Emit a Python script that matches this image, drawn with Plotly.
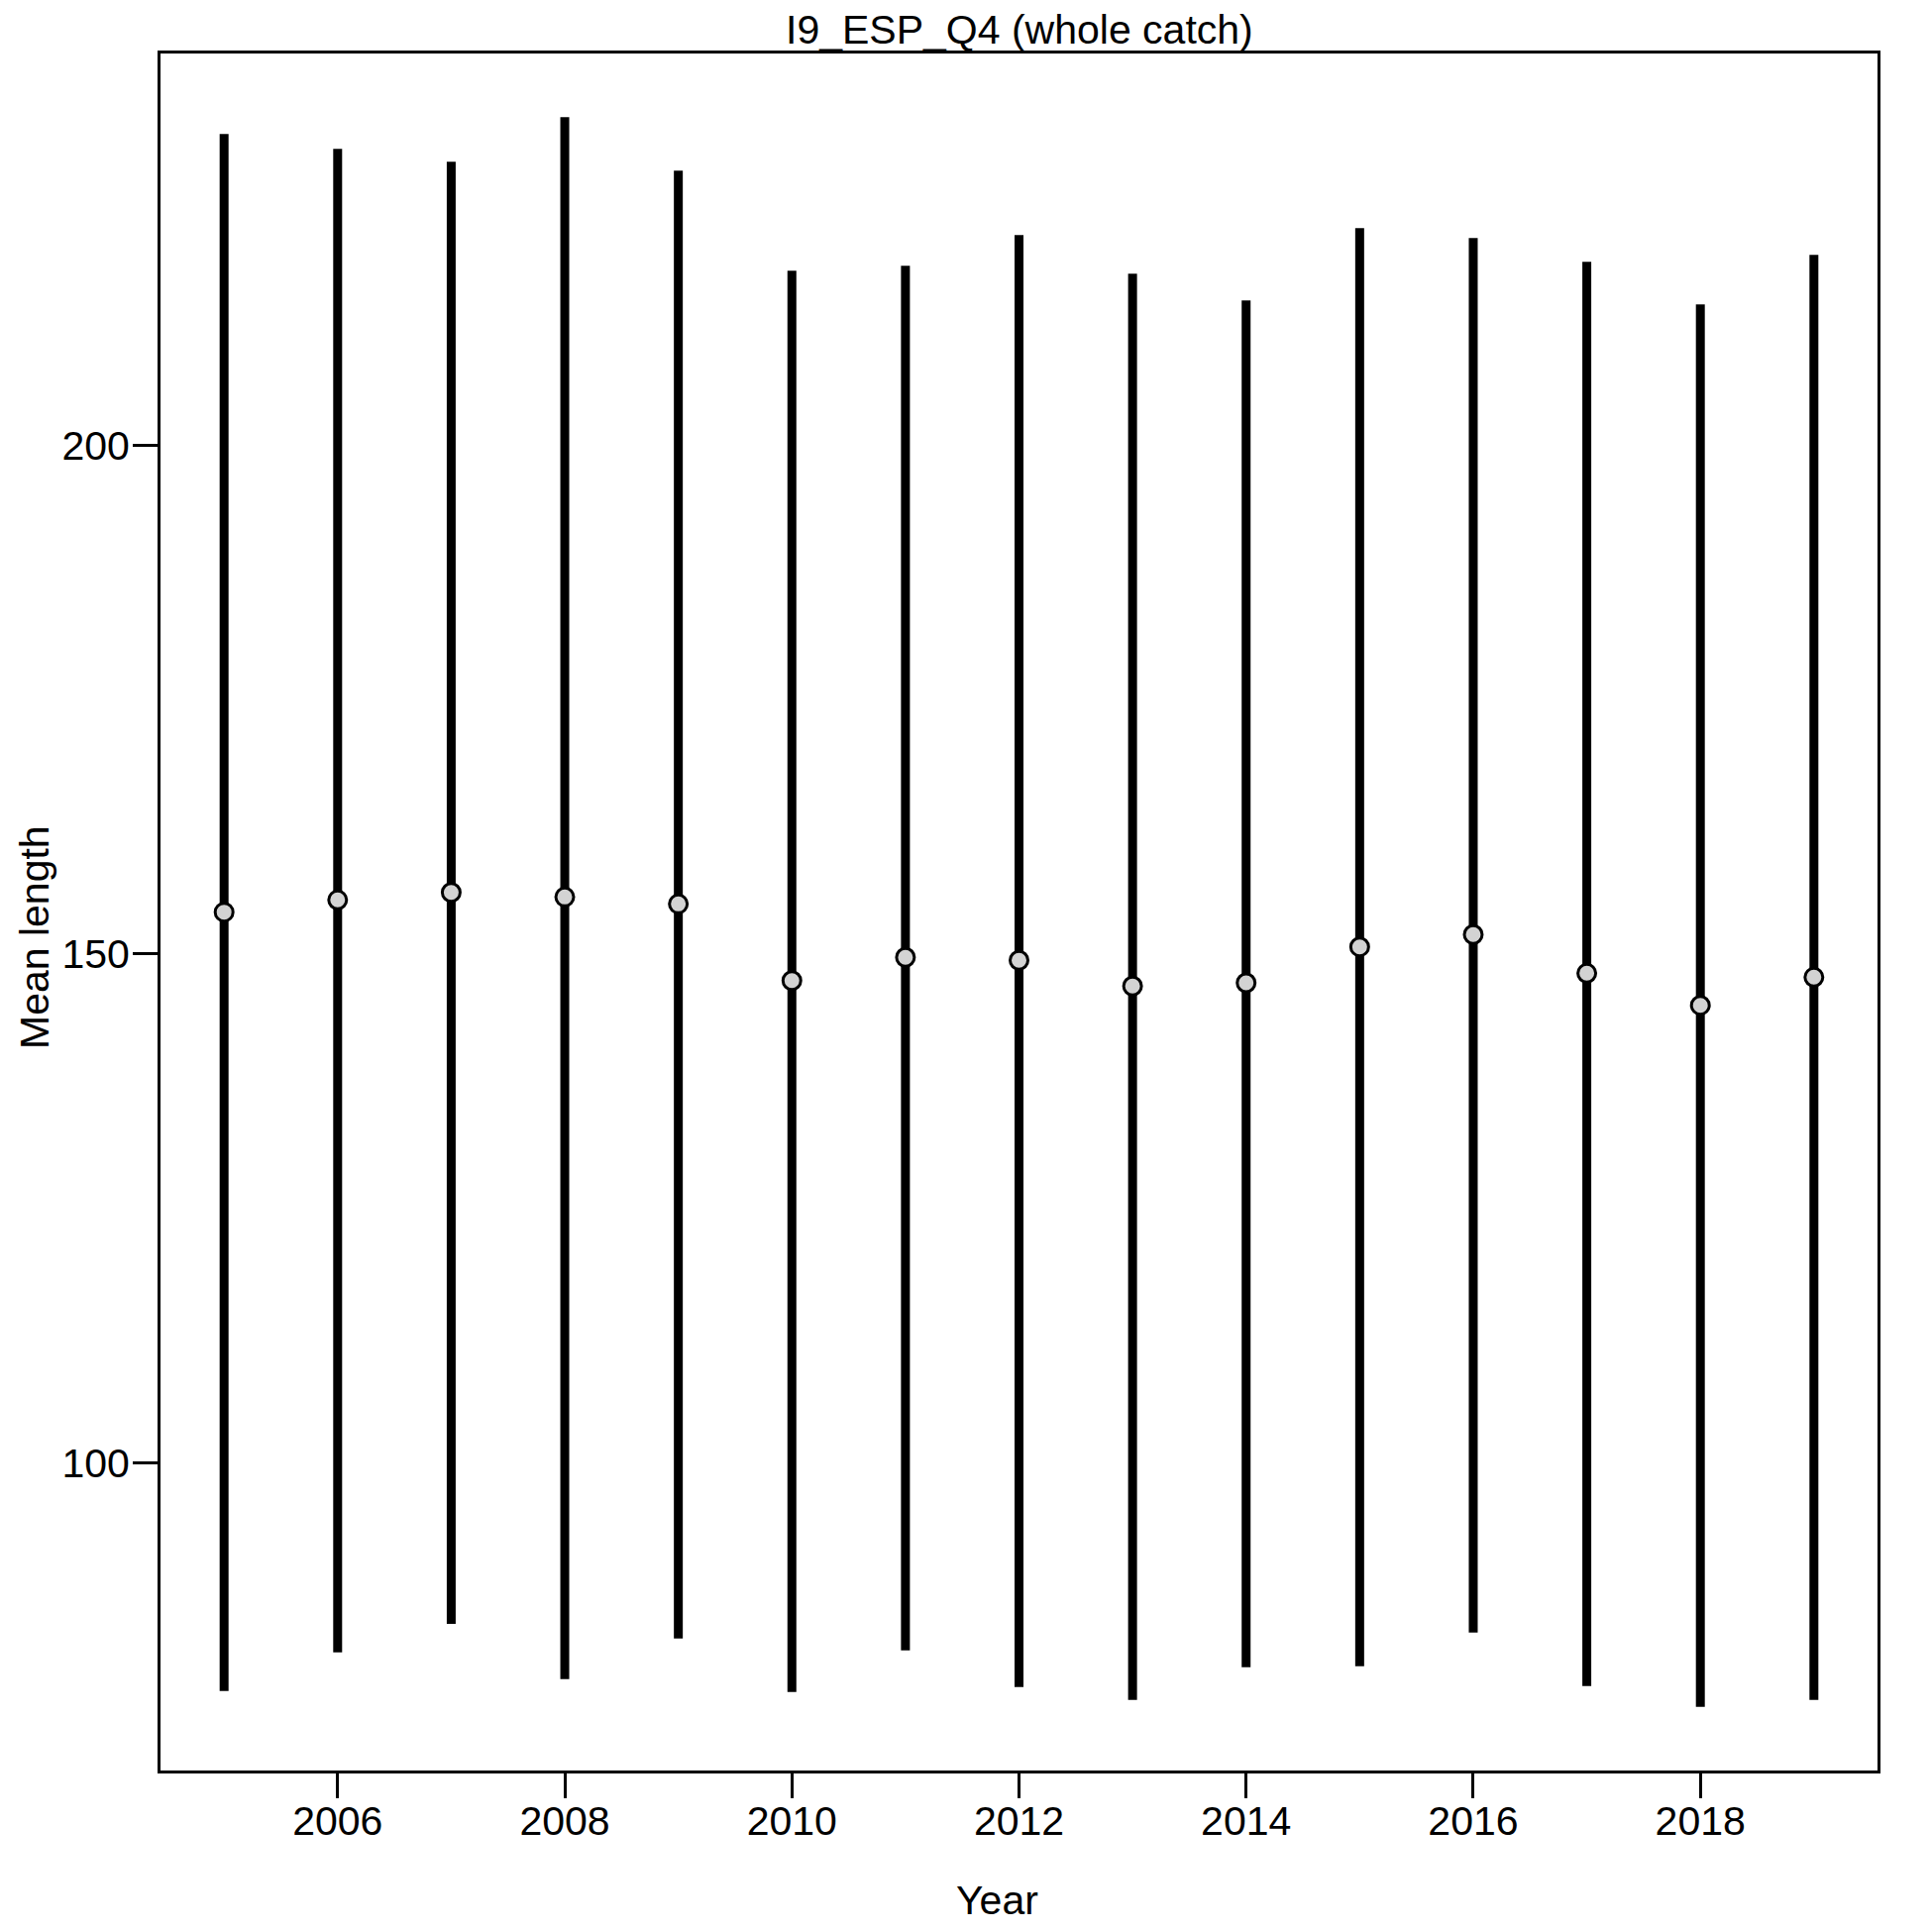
import plotly.graph_objects as go

# mean length per year with the upper / lower interval ends
years = [2005, 2006, 2007, 2008, 2009, 2010, 2011, 2012, 2013, 2014, 2015, 2016, 2017, 2018, 2019]
mean_len = [154.12, 155.32, 156.06, 155.61, 154.93, 147.40, 149.68, 149.39, 146.86, 147.18,
            150.71, 151.92, 148.12, 144.97, 147.73]
upper = [230.55, 229.09, 227.83, 232.21, 226.95, 217.13, 217.61, 220.63, 216.83, 214.21,
         221.31, 220.34, 218.00, 213.82, 218.68]
lower = [77.62, 81.41, 84.21, 78.79, 82.78, 77.52, 81.61, 78.01, 76.74, 79.96,
         80.05, 83.36, 78.11, 76.06, 76.74]

x_ticks = [2006, 2008, 2010, 2012, 2014, 2016, 2018]
y_ticks = [100, 150, 200]

plus = [u - m for u, m in zip(upper, mean_len)]
minus = [m - l for m, l in zip(mean_len, lower)]

# R style axis ranges (4% padding)
def padded(lo, hi):
    d = (hi - lo) * 0.04
    return [lo - d, hi + d]

xr = padded(min(years), max(years))
yr = padded(min(lower), max(upper))

FONT = "Liberation Sans, Arial, sans-serif"
W, H = 1950, 1950
L, R, T, B = 154, 63, 46, 171

fig = go.Figure()
fig.add_trace(go.Scatter(
    x=years, y=mean_len, mode="markers",
    marker=dict(size=18, color="#d3d3d3", line=dict(color="black", width=3)),
    error_y=dict(type="data", symmetric=False, array=plus, arrayminus=minus,
                 thickness=9, width=0, color="black"),
    showlegend=False,
))

axis_style = dict(showline=True, linecolor="black", linewidth=3, mirror=True,
                  showgrid=False, zeroline=False, ticks="outside", ticklen=25,
                  tickwidth=3, tickcolor="black",
                  tickfont=dict(family=FONT, size=41, color="black"))

fig.update_xaxes(range=xr, tickvals=x_ticks, ticklabelstandoff=-12, **axis_style)
fig.update_yaxes(range=yr, tickvals=y_ticks, ticklabelstandoff=-5, **axis_style)

pw = W - L - R
ph = H - T - B
def px_x(p):
    return (p - L) / pw
def px_y(p):
    return 1 - (p - T) / ph

def label(text, x, y, angle=0):
    fig.add_annotation(text=text, x=px_x(x), y=px_y(y), textangle=angle,
                       xref="paper", yref="paper", xanchor="center", yanchor="middle",
                       showarrow=False, font=dict(family=FONT, size=41, color="black"))

label("I9_ESP_Q4 (whole catch)", 1021, 22)
label("Year", 998, 1910)
label("Mean length", 27, 938, angle=-90)

fig.update_layout(width=W, height=H, margin=dict(l=L, r=R, t=T, b=B),
                  paper_bgcolor="white", plot_bgcolor="white")

fig.write_html("out.html")
